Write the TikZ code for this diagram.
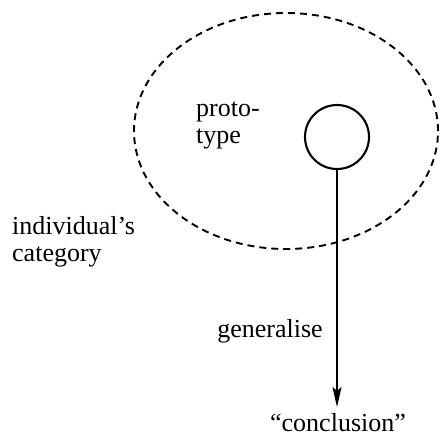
\documentclass[tikz,border=0pt]{standalone}
\usepackage{fontspec}
\setmainfont{Liberation Serif}
\usetikzlibrary{arrows.meta}
\begin{document}
\begin{tikzpicture}[x=1pt,y=1pt,
  lbl/.style={font=\fontsize{26}{27}\selectfont, inner sep=0pt},
  cat/.style={draw, dash pattern=on 7pt off 5pt, line width=1.9pt},
  proto/.style={draw, circle, line width=2.1pt, minimum size=64pt, inner sep=0pt},
  gen/.style={line width=1.9pt, -{Stealth[length=20pt,width=9pt,inset=4pt]}}]
\useasboundingbox (0,0) rectangle (441,-439);
\draw[cat] (286,-131) ellipse [x radius=152, y radius=118];
\node[proto] (c) at (337,-137) {};
\node[lbl, align=left, anchor=north west] (pt) at (196,-102) {proto-\\type};
\node[lbl, align=left, anchor=north west] (ic) at (12,-216) {individual's\\category};
\coordinate (tip) at (337,-407);
\draw[gen] (c.south) -- (tip);
\node[lbl] (g) at (270,-331) {generalise};
\node[lbl] (cc) at (338,-423) {“conclusion”};
\end{tikzpicture}
\end{document}
